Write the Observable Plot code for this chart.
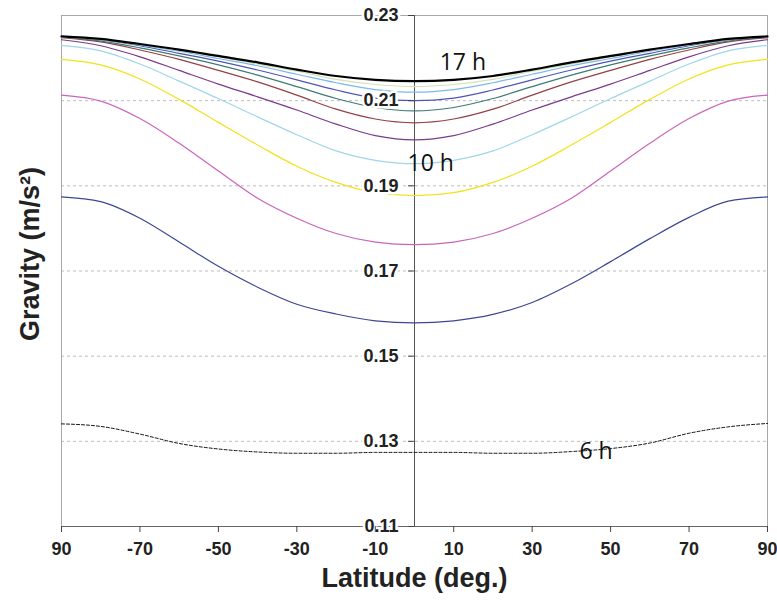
<!DOCTYPE html>
<html><head><meta charset="utf-8">
<script src="https://cdn.jsdelivr.net/npm/d3@7"></script>
<script src="https://cdn.jsdelivr.net/npm/@observablehq/plot@0.6"></script>
<style>body{margin:0;background:#fff} #chart svg{display:block}</style>
</head><body><div id="chart"></div>
<script>
// ---- data ----
const latitudes = [-90,-80,-70,-60,-50,-40,-30,-20,-10,0,10,20,30,40,50,60,70,80,90];
const hours = [6,7,8,9,10,11,12,13,14,15,16,17];
const g6  = [0.1341,0.1335,0.1317,0.1295,0.1282,0.1275,0.1272,0.1272,0.1274,0.1274,0.1274,0.1272,0.1272,0.1276,0.1283,0.1296,0.1319,0.1334,0.1342];
const g7  = [0.1874,0.1863,0.1824,0.1768,0.1711,0.1662,0.1622,0.1599,0.1583,0.1578,0.1583,0.1598,0.1626,0.1670,0.1722,0.1776,0.1826,0.1864,0.1874];
const g8  = [0.2113,0.2099,0.2058,0.2000,0.1935,0.1871,0.1824,0.1788,0.1768,0.1762,0.1768,0.1788,0.1824,0.1871,0.1935,0.2000,0.2058,0.2099,0.2113];
const g9  = [0.2197,0.2184,0.2151,0.2103,0.2049,0.1996,0.1946,0.1908,0.1884,0.1877,0.1884,0.1908,0.1946,0.1996,0.2049,0.2103,0.2151,0.2184,0.2197];
const g10 = [0.2230,0.2217,0.2186,0.2146,0.2105,0.2062,0.2020,0.1982,0.1960,0.1952,0.1960,0.1982,0.2020,0.2062,0.2105,0.2146,0.2186,0.2217,0.2230];
const g11 = [0.2243,0.2229,0.2203,0.2171,0.2139,0.2109,0.2078,0.2045,0.2018,0.2008,0.2018,0.2045,0.2078,0.2109,0.2139,0.2171,0.2203,0.2229,0.2243];
const g12 = [0.2248,0.2238,0.2219,0.2197,0.2171,0.2144,0.2113,0.2080,0.2057,0.2048,0.2057,0.2080,0.2113,0.2144,0.2171,0.2197,0.2219,0.2238,0.2248];
const g13 = [0.2249,0.2240,0.2224,0.2205,0.2184,0.2160,0.2133,0.2105,0.2084,0.2076,0.2084,0.2105,0.2133,0.2160,0.2184,0.2205,0.2224,0.2240,0.2249];
const g14 = [0.2250,0.2243,0.2229,0.2211,0.2193,0.2172,0.2149,0.2125,0.2106,0.2100,0.2106,0.2125,0.2149,0.2172,0.2193,0.2211,0.2229,0.2243,0.2250];
const g15 = [0.2250,0.2244,0.2231,0.2216,0.2199,0.2182,0.2162,0.2142,0.2126,0.2120,0.2126,0.2142,0.2162,0.2182,0.2199,0.2216,0.2231,0.2244,0.2250];
const g16 = [0.2250,0.2244,0.2232,0.2218,0.2203,0.2186,0.2169,0.2150,0.2138,0.2133,0.2138,0.2150,0.2169,0.2186,0.2203,0.2218,0.2232,0.2244,0.2250];
const g17 = [0.2251,0.2245,0.2233,0.2220,0.2205,0.2190,0.2173,0.2158,0.2149,0.2146,0.2149,0.2158,0.2173,0.2190,0.2205,0.2220,0.2233,0.2245,0.2251];
const seriesValues = [g6,g7,g8,g9,g10,g11,g12,g13,g14,g15,g16,g17];
const xTickValues = [-90,-70,-50,-30,-10,10,30,50,70,90];
const xTickLabels = ["90","-70","-50","-30","-10","10","30","50","70","90"];
const yTickValues = [0.11,0.13,0.15,0.17,0.19,0.21,0.23];
const yTickLabels = ["0.11","0.13","0.15","0.17","0.19","0.21","0.23"];
const gridValues = [0.13,0.15,0.17,0.19,0.21];
const yDomain = [0.11,0.23];
const xDomain = [-90,90];
const labelTexts = ["17 h","10 h","6 h"];
const labelHours = [17,10,6];
const labelLats = [10,0,40];

// ---- styles ----
const palette = {6:"#111111",7:"#3c4891",8:"#c966b9",9:"#f2e21c",10:"#9fd6ea",11:"#7a3a8e",12:"#944246",13:"#3d7c70",14:"#5055b4",15:"#7cb8ee",16:"#d3e2b6",17:"#000000"};

const rows = hours.flatMap((h,i) => latitudes.map((lat,j) => ({hour:h, lat, g: seriesValues[i][j]})));
const valueAt = (h, lat) => seriesValues[hours.indexOf(h)][latitudes.indexOf(lat)];
const ann = labelTexts.map((t,i) => ({text:t, lat:labelLats[i], g:valueAt(labelHours[i], labelLats[i])}));

const lineMarks = hours.map(h => Plot.line(rows.filter(r => r.hour === h), {
  x:"lat", y:"g", stroke: palette[h], curve: "monotone-x",
  strokeWidth: h === 17 ? 2.2 : (h === 6 ? 1 : 1.2),
  strokeDasharray: h === 6 ? "3,2" : null
}));

const chart = Plot.plot({
  width: 777, height: 604,
  marginLeft: 61, marginRight: 10, marginTop: 15, marginBottom: 78,
  style: {fontFamily: "'Liberation Sans', Arial, sans-serif", background: "#fff"},
  x: {domain: xDomain, axis: null},
  y: {domain: yDomain, axis: null},
  marks: [
    Plot.ruleY(gridValues, {stroke:"#bdbdbd", strokeDasharray:"3,3"}),
    Plot.frame({stroke:"#a8a8a8"}),
    Plot.ruleX([0], {stroke:"#555"}),
    Plot.ruleY([yDomain[0]], {stroke:"#666"}),
    ...lineMarks,
    Plot.ruleY(yTickValues, {x1:0, x2:0, insetLeft:-6, stroke:"#444"}),
    Plot.text(yTickValues, {x:0, y:d=>d, text:(d,i)=>yTickLabels[i], dx:-16, textAnchor:"end",
      fontWeight:"bold", fontSize:18, fill:"#222", stroke:"white", strokeWidth:5, paintOrder:"stroke"}),
    Plot.axisX(xTickValues, {tickFormat: d => xTickLabels[xTickValues.indexOf(d)], tickSize:6, tickPadding:10,
      fontSize:18, fontWeight:"bold", stroke:"#444", fill:"#222", label:null}),
    Plot.text(["Latitude (deg.)"], {frameAnchor:"bottom", textAnchor:"middle", dy:60, fontSize:27, fontWeight:"bold", fill:"#222"}),
    Plot.text(["Gravity (m/s²)"], {frameAnchor:"left", textAnchor:"middle", rotate:-90, dx:-31, dy:-17, fontSize:27, fontWeight:"bold", fill:"#222"}),
    Plot.text([ann[0]], {x:"lat", y:"g", text:"text", dx:-14, dy:-17, textAnchor:"start", fontSize:23, fontFamily:"'Open Sans', sans-serif", fill:"#111"}),
    Plot.text([ann[1]], {x:"lat", y:"g", text:"text", dx:-7, dy:0, textAnchor:"start", fontSize:23, fontFamily:"'Open Sans', sans-serif", fill:"#111"}),
    Plot.text([ann[2]], {x:"lat", y:"g", text:"text", dx:8, dy:0, textAnchor:"start", fontSize:23, fontFamily:"'Open Sans', sans-serif", fill:"#111"})
  ]
});
document.getElementById("chart").appendChild(chart);
</script>
</body></html>
